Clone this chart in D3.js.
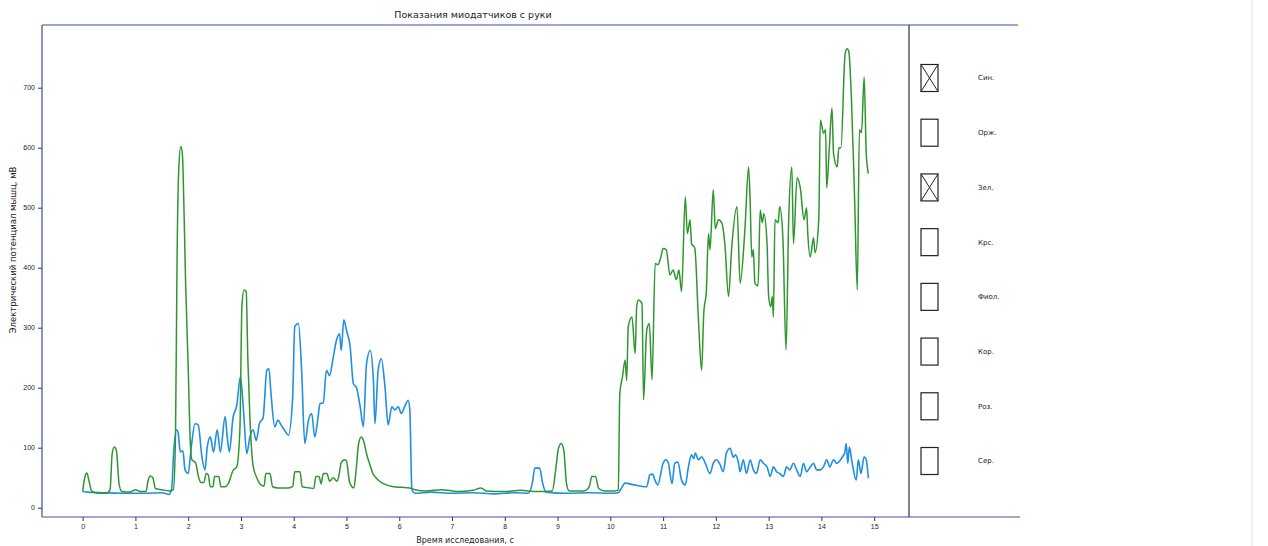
<!DOCTYPE html>
<html>
<head>
<meta charset="utf-8">
<script src="https://cdn.jsdelivr.net/npm/d3@7"></script>
<style>
  body { margin: 0; background: #fff; }
  svg { display: block; font-family: "DejaVu Sans", sans-serif; }
</style>
</head>
<body>
<div class="canva"></div>
<script>
// время, с и значения, мВ
const blueT = [0, 0.1, 0.4, 0.8, 1.2, 1.5, 1.64, 1.69, 1.72, 1.78, 1.81, 1.85, 1.9, 1.94, 2.0, 2.06, 2.13, 2.19, 2.26, 2.32, 2.36, 2.42, 2.48, 2.55, 2.61, 2.7, 2.74, 2.78, 2.85, 2.92, 2.99, 3.05, 3.11, 3.17, 3.23, 3.29, 3.35, 3.42, 3.49, 3.53, 3.57, 3.64, 3.7, 3.76, 3.82, 3.9, 3.98, 4.02, 4.09, 4.15, 4.21, 4.28, 4.34, 4.4, 4.46, 4.5, 4.56, 4.62, 4.68, 4.74, 4.81, 4.87, 4.9, 4.95, 5.0, 5.07, 5.13, 5.19, 5.26, 5.32, 5.38, 5.45, 5.51, 5.54, 5.6, 5.66, 5.73, 5.79, 5.86, 5.92, 5.98, 6.04, 6.1, 6.17, 6.2, 6.24, 6.3, 6.6, 7.0, 7.4, 7.8, 8.2, 8.45, 8.52, 8.57, 8.66, 8.72, 8.78, 9.2, 9.6, 10.0, 10.15, 10.2, 10.28, 10.45, 10.69, 10.75, 10.8, 10.85, 10.9, 11.0, 11.05, 11.1, 11.17, 11.22, 11.28, 11.35, 11.42, 11.48, 11.54, 11.58, 11.61, 11.67, 11.73, 11.8, 11.89, 11.95, 12.01, 12.07, 12.14, 12.2, 12.27, 12.33, 12.37, 12.43, 12.46, 12.52, 12.58, 12.65, 12.71, 12.77, 12.84, 12.9, 12.97, 13.03, 13.09, 13.15, 13.21, 13.28, 13.34, 13.4, 13.47, 13.53, 13.6, 13.66, 13.72, 13.79, 13.85, 13.91, 13.98, 14.04, 14.1, 14.16, 14.23, 14.29, 14.4, 14.44, 14.47, 14.5, 14.53, 14.58, 14.66, 14.7, 14.75, 14.81, 14.85, 14.89];
const blueV = [27, 26, 25, 24, 24, 25, 22, 33, 85, 130, 125, 93, 95, 63, 57, 102, 140, 138, 85, 63, 100, 118, 93, 130, 93, 152, 118, 93, 150, 170, 218, 160, 90, 118, 130, 112, 140, 150, 229, 232, 190, 135, 146, 138, 130, 121, 184, 302, 307, 229, 107, 146, 157, 118, 150, 174, 174, 229, 220, 246, 279, 290, 262, 313, 296, 268, 207, 200, 168, 135, 240, 262, 212, 140, 229, 248, 201, 138, 168, 163, 168, 157, 168, 179, 163, 30, 24, 26, 24, 25, 23, 25, 24, 40, 66, 66, 40, 26, 24, 25, 24, 25, 31, 41, 38, 35, 55, 56, 45, 38, 74, 80, 74, 40, 74, 76, 46, 38, 68, 88, 82, 91, 80, 85, 74, 57, 74, 80, 74, 60, 91, 99, 84, 88, 74, 60, 80, 57, 80, 63, 57, 80, 74, 68, 52, 68, 60, 57, 52, 68, 63, 74, 63, 52, 74, 60, 68, 74, 63, 63, 68, 80, 68, 80, 74, 85, 91, 107, 74, 101, 76, 46, 80, 57, 85, 80, 49];

const greenT = [0, 0.04, 0.08, 0.12, 0.17, 0.3, 0.45, 0.52, 0.56, 0.6, 0.64, 0.69, 0.74, 0.9, 1.0, 1.1, 1.2, 1.24, 1.28, 1.33, 1.38, 1.5, 1.65, 1.72, 1.76, 1.79, 1.82, 1.86, 1.89, 1.92, 1.95, 2.0, 2.04, 2.07, 2.14, 2.2, 2.24, 2.3, 2.34, 2.38, 2.42, 2.47, 2.5, 2.58, 2.62, 2.7, 2.76, 2.85, 2.92, 2.98, 3.02, 3.06, 3.1, 3.13, 3.17, 3.23, 3.3, 3.38, 3.44, 3.47, 3.55, 3.6, 3.7, 3.9, 3.98, 4.02, 4.12, 4.16, 4.3, 4.38, 4.42, 4.48, 4.52, 4.56, 4.63, 4.68, 4.75, 4.82, 4.86, 4.9, 4.96, 5.0, 5.06, 5.14, 5.18, 5.23, 5.28, 5.33, 5.38, 5.45, 5.5, 5.58, 5.7, 5.89, 6.05, 6.2, 6.3, 6.5, 6.8, 7.1, 7.4, 7.55, 7.65, 8.0, 8.3, 8.6, 8.9, 8.96, 9.02, 9.07, 9.12, 9.17, 9.22, 9.5, 9.6, 9.65, 9.72, 9.78, 9.9, 10.1, 10.15, 10.18, 10.23, 10.28, 10.31, 10.34, 10.41, 10.47, 10.5, 10.53, 10.6, 10.63, 10.69, 10.74, 10.79, 10.85, 10.9, 10.95, 11.0, 11.06, 11.13, 11.19, 11.25, 11.3, 11.35, 11.42, 11.46, 11.51, 11.54, 11.6, 11.67, 11.73, 11.77, 11.82, 11.86, 11.89, 11.95, 11.99, 12.05, 12.11, 12.17, 12.24, 12.3, 12.4, 12.46, 12.55, 12.62, 12.65, 12.68, 12.71, 12.74, 12.8, 12.84, 12.88, 12.91, 12.97, 13.0, 13.04, 13.07, 13.09, 13.12, 13.18, 13.21, 13.27, 13.33, 13.38, 13.44, 13.47, 13.54, 13.6, 13.67, 13.72, 13.74, 13.79, 13.85, 13.88, 13.95, 13.98, 14.04, 14.08, 14.1, 14.15, 14.2, 14.23, 14.3, 14.33, 14.37, 14.45, 14.49, 14.52, 14.57, 14.63, 14.68, 14.72, 14.76, 14.81, 14.85, 14.89];
const greenV = [27, 50, 58, 45, 28, 24, 24, 30, 90, 101, 95, 40, 27, 26, 30, 27, 27, 45, 53, 50, 32, 30, 28, 30, 120, 420, 560, 602, 590, 500, 380, 235, 110, 80, 75, 50, 42, 42, 57, 55, 35, 35, 52, 52, 35, 35, 40, 62, 68, 130, 340, 363, 360, 250, 150, 70, 50, 38, 36, 57, 57, 35, 33, 33, 35, 60, 60, 35, 33, 32, 52, 52, 40, 57, 57, 44, 50, 44, 55, 75, 80, 78, 42, 33, 60, 107, 118, 110, 90, 70, 57, 48, 40, 35, 34, 33, 30, 28, 30, 27, 29, 33, 28, 27, 29, 27, 28, 60, 100, 107, 95, 40, 28, 28, 35, 52, 52, 32, 28, 28, 30, 191, 218, 246, 212, 302, 318, 257, 335, 346, 340, 180, 296, 307, 213, 407, 405, 415, 432, 430, 388, 396, 380, 396, 360, 518, 457, 480, 440, 433, 313, 229, 323, 362, 457, 430, 530, 465, 480, 475, 440, 352, 433, 502, 374, 463, 568, 510, 418, 430, 374, 370, 496, 475, 490, 440, 352, 335, 352, 318, 480, 475, 502, 450, 263, 480, 568, 440, 550, 533, 480, 500, 460, 418, 450, 425, 480, 646, 624, 630, 533, 600, 666, 590, 568, 600, 600, 757, 765, 760, 680, 513, 363, 630, 625, 718, 590, 557];

const xTicks = d3.range(0, 16);
const yTicks = d3.range(0, 800, 100);

const legendLabels = ["Син.", "Орж.", "Зел.", "Крс.", "Фиол.", "Кор.", "Роз.", "Сер."];
const legendChecked = [true, false, true, false, false, false, false, false];

const width = 1268, height = 546;

const svg = d3.select(".canva").append("svg")
    .attr("width", width)
    .attr("height", height);

const x = d3.scaleLinear().domain([-0.77, 15.66]).range([42, 909]);
const y = d3.scaleLinear().domain([-15.5, 804.5]).range([517, 25]);

// оси
const xAxis = svg.append("g")
    .attr("transform", "translate(0,517)")
    .call(d3.axisBottom(x).tickValues(xTicks).tickSize(4).tickPadding(3));
const yAxis = svg.append("g")
    .attr("transform", "translate(42,0)")
    .call(d3.axisLeft(y).tickValues(yTicks).tickSize(4).tickPadding(3));

[xAxis, yAxis].forEach(a => {
    a.select(".domain").remove();
    a.selectAll("line").attr("stroke", "#333");
    a.selectAll("text").attr("font-size", 7).attr("fill", "#222");
});

// рамка
const frameColor = "#3b4f9e";
svg.append("line").attr("x1", 42).attr("x2", 1018).attr("y1", 25).attr("y2", 25)
    .attr("stroke", frameColor).attr("stroke-width", 1.2);
svg.append("line").attr("x1", 42).attr("x2", 42).attr("y1", 25).attr("y2", 517)
    .attr("stroke", frameColor).attr("stroke-width", 1.2);
svg.append("line").attr("x1", 42).attr("x2", 1020).attr("y1", 517).attr("y2", 517)
    .attr("stroke", "#4a4f9a").attr("stroke-width", 1.2);
svg.append("line").attr("x1", 909).attr("x2", 909).attr("y1", 25).attr("y2", 517)
    .attr("stroke", "#333").attr("stroke-width", 1.2);
svg.append("line").attr("x1", 1252).attr("x2", 1252).attr("y1", 0).attr("y2", height)
    .attr("stroke", "#e2e2e2").attr("stroke-width", 1);

// линии
const line = d3.line()
    .x(d => x(d[0]))
    .y(d => y(d[1]))
    .curve(d3.curveMonotoneX);

svg.append("path")
    .datum(blueT.map((t, i) => [t, blueV[i]]))
    .attr("d", line)
    .attr("fill", "none")
    .attr("stroke", "#1f8fe3")
    .attr("stroke-width", 1.6);

svg.append("path")
    .datum(greenT.map((t, i) => [t, greenV[i]]))
    .attr("d", line)
    .attr("fill", "none")
    .attr("stroke", "#2f962f")
    .attr("stroke-width", 1.5);

// подписи
svg.append("text")
    .attr("x", 473).attr("y", 18)
    .attr("text-anchor", "middle")
    .attr("font-size", 9.5)
    .attr("fill", "#222")
    .text("Показания миодатчиков с руки");

svg.append("text")
    .attr("x", 465).attr("y", 543)
    .attr("text-anchor", "middle")
    .attr("font-size", 8)
    .attr("fill", "#222")
    .text("Время исследования, с");

svg.append("text")
    .attr("transform", "translate(16,250) rotate(-90)")
    .attr("text-anchor", "middle")
    .attr("font-size", 8.5)
    .attr("fill", "#222")
    .text("Электрический потенциал мышц, мВ");

// легенда с флажками
const ly = d3.scaleLinear().domain([0, 7]).range([78, 461]);

const items = svg.selectAll(".legend")
    .data(legendLabels)
    .enter()
    .append("g")
    .attr("class", "legend")
    .attr("transform", (d, i) => `translate(921,${ly(i)})`);

items.append("rect")
    .attr("x", 0).attr("y", -13.5)
    .attr("width", 17).attr("height", 27)
    .attr("fill", "#fff")
    .attr("stroke", "#222")
    .attr("stroke-width", 1.2);

items.filter((d, i) => legendChecked[i])
    .append("path")
    .attr("d", "M0,-13.5L17,13.5M17,-13.5L0,13.5")
    .attr("stroke", "#222")
    .attr("stroke-width", 1);

items.append("text")
    .attr("x", 57).attr("y", 0)
    .attr("dy", "0.35em")
    .attr("font-size", 7)
    .attr("fill", "#222")
    .text(d => d);
</script>
</body>
</html>
